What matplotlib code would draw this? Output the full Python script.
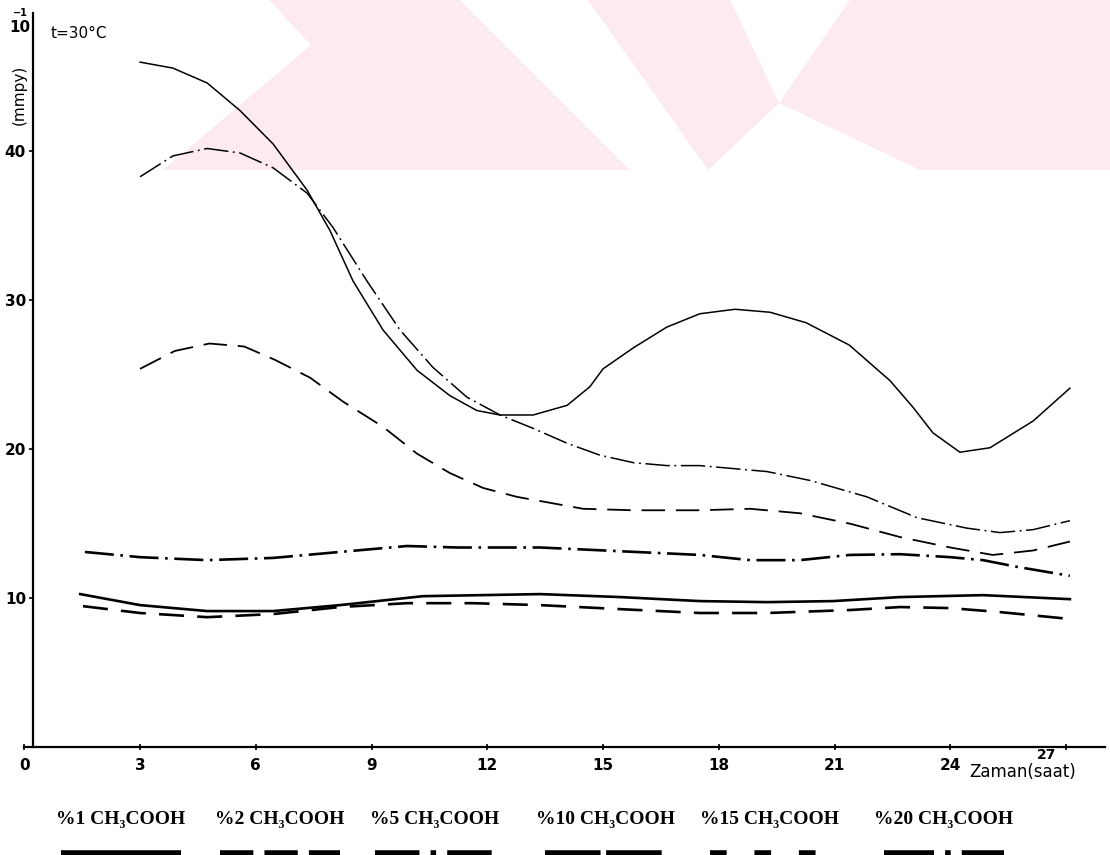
import matplotlib.pyplot as plt
from matplotlib.patches import Polygon
from matplotlib.lines import Line2D

# corrosion rate (x10^-1 mmpy) against time (h), t = 30 C
t_20 = [3.0, 3.85, 4.74, 5.59, 6.45, 7.33, 7.92, 8.52, 9.30, 10.18, 11.03, 11.73, 12.33,
        13.19, 14.07, 14.66, 15.0, 15.78, 16.65, 17.51, 18.42, 19.33, 20.26, 21.38, 22.44,
        23.04, 23.55, 24.25, 25.03, 26.15, 27.1]
r_20 = [46.0, 45.6, 44.6, 42.75, 40.5, 37.4, 34.7, 31.3, 28.0, 25.3, 23.6, 22.6, 22.3,
        22.3, 22.95, 24.2, 25.4, 26.8, 28.2, 29.1, 29.4, 29.2, 28.5, 27.0, 24.6,
        22.8, 21.1, 19.8, 20.1, 21.9, 24.1]

t_15 = [3.0, 3.85, 4.74, 5.59, 6.45, 7.33, 8.0, 8.88, 9.74, 10.59, 11.47, 12.33, 13.19,
        14.07, 14.92, 15.78, 16.66, 17.51, 19.25, 20.37, 21.84, 23.14, 24.43, 25.29, 26.15, 27.1]
r_15 = [38.3, 39.7, 40.2, 39.9, 38.9, 37.2, 34.9, 31.3, 28.0, 25.5, 23.5, 22.3, 21.4,
        20.4, 19.6, 19.1, 18.9, 18.9, 18.5, 17.9, 16.8, 15.4, 14.7, 14.4, 14.6, 15.2]

t_10 = [3.0, 3.9, 4.8, 5.7, 6.5, 7.41, 8.26, 9.30, 10.18, 11.03, 11.89, 12.77, 13.63,
        14.48, 15.78, 17.51, 18.81, 20.1, 21.4, 22.7, 24.0, 25.1, 26.15, 27.1]
r_10 = [25.4, 26.6, 27.1, 26.9, 26.0, 24.8, 23.2, 21.5, 19.7, 18.4, 17.4, 16.8, 16.4,
        16.0, 15.9, 15.9, 16.0, 15.7, 15.0, 14.1, 13.4, 12.9, 13.2, 13.8]

t_5 = [1.57, 3.0, 4.74, 6.45, 8.18, 9.92, 11.22, 13.37, 15.44, 17.51, 18.81, 20.1,
       21.4, 22.7, 24.0, 24.85, 25.73, 27.1]
r_5 = [13.1, 12.75, 12.55, 12.7, 13.1, 13.5, 13.4, 13.4, 13.15, 12.9, 12.55, 12.55,
       12.9, 12.95, 12.75, 12.55, 12.1, 11.5]

t_1 = [1.45, 3.0, 4.74, 6.45, 8.18, 10.33, 13.37, 15.44, 17.51, 19.25, 20.96, 22.7, 24.85, 27.1]
r_1 = [10.27, 9.53, 9.13, 9.13, 9.53, 10.13, 10.27, 10.07, 9.8, 9.73, 9.8, 10.07, 10.2, 9.93]

t_2 = [1.52, 3.0, 4.74, 6.45, 8.18, 9.92, 11.63, 13.37, 15.44, 17.51, 19.25, 21.4,
       22.7, 24.0, 25.29, 27.1]
r_2 = [9.46, 9.0, 8.72, 8.93, 9.4, 9.66, 9.66, 9.53, 9.26, 9.0, 9.0, 9.2,
       9.4, 9.33, 9.06, 8.6]

x_ticks = [0, 3, 6, 9, 12, 15, 18, 21, 24, 27]
y_ticks = [10, 20, 30, 40]
legend_names = ["%1 CH\u2083COOH", "%2 CH\u2083COOH", "%5 CH\u2083COOH",
                "%10 CH\u2083COOH", "%15 CH\u2083COOH", "%20 CH\u2083COOH"]

W, H = 1110, 855
fig = plt.figure(figsize=(W / 100, H / 100), dpi=100)

def fx(px):
    return px / W

def fy(py):
    return 1 - py / H

# faint watermark behind the plot
wm = [
    [(269, 0), (460, 0), (630, 170), (163, 170), (311, 45)],
    [(588, 0), (730, 0), (779, 103), (708, 170)],
    [(850, 0), (1110, 0), (1110, 170), (920, 170), (779, 103)],
]
for pts in wm:
    fig.patches.append(Polygon([(fx(x), fy(y)) for x, y in pts], closed=True,
                               transform=fig.transFigure, facecolor="#fdeaee",
                               edgecolor="none", zorder=-1))

ax = fig.add_axes([fx(24.3), fy(747), fx(1105 - 24.3), (747 - 13) / H])
ax.set_zorder(1)
ax.patch.set_alpha(0)
ax.set_xlim(0, 28.01)
ax.set_ylim(0, 49.3)

ax.spines["top"].set_visible(False)
ax.spines["right"].set_visible(False)
ax.spines["left"].set_position(("data", 0.225))
ax.spines["left"].set_linewidth(1.6)
ax.spines["bottom"].set_linewidth(1.6)

ax.set_xticks(x_ticks)
ax.set_xticklabels([str(v) if v != 27 else "" for v in x_ticks])
ax.set_yticks(y_ticks)
ax.set_yticklabels([str(v) for v in y_ticks])
ax.tick_params(axis="x", direction="inout", length=4, width=1.2, pad=6, labelsize=11)
ax.tick_params(axis="y", direction="out", length=3, width=1.2, pad=2, labelsize=11)
for lab in ax.get_xticklabels() + ax.get_yticklabels():
    lab.set_fontweight("bold")

thin = 1.1
thick = 1.9
ax.plot(t_20, r_20, color="black", lw=thin)
ax.plot(t_15, r_15, color="black", lw=thin, dashes=(16, 3, 1.2, 3))
ax.plot(t_10, r_10, color="black", lw=1.3, dashes=(13, 6))
ax.plot(t_5, r_5, color="black", lw=thick, dashes=(11, 2.5, 1, 2.5))
ax.plot(t_1, r_1, color="black", lw=thick)
ax.plot(t_2, r_2, color="black", lw=thick, dashes=(9.5, 5))

# labels around the axes
fig.text(fx(20), fy(27), "10", fontsize=11, fontweight="bold", ha="center", va="center")
fig.text(fx(20), fy(13), "\u22121", fontsize=7, fontweight="bold", ha="center", va="center")
fig.text(fx(79), fy(34), "t=30\u00b0C", fontsize=11, ha="center", va="center")
fig.text(fx(19), fy(95), "(mmpy)", fontsize=11, rotation=90, ha="center", va="center")
fig.text(fx(1047), fy(755), "27", fontsize=10, fontweight="bold", ha="center", va="center")
fig.text(fx(1023), fy(772), "Zaman(saat)", fontsize=12, ha="center", va="center")

# legend row with line samples cut by the bottom edge
leg_x = [121, 280, 435, 605, 770, 944]
leg_styles = [None, (6, 2), (8, 2, 1, 2), (10, 1), (3, 5), (9, 2, 1, 2)]
for name, cx, st in zip(legend_names, leg_x, leg_styles):
    fig.text(fx(cx), fy(819), name, fontsize=14, fontweight="bold",
             family=["DejaVu Sans Condensed", "Liberation Serif"],
             ha="center", va="center")
    ln = Line2D([fx(cx - 60), fx(cx + 60)], [fy(853), fy(853)], transform=fig.transFigure,
                color="black", lw=4, solid_capstyle="butt", dash_capstyle="butt")
    if st is not None:
        ln.set_dashes(st)
    fig.lines.append(ln)

fig.savefig("out.png", dpi=100)
